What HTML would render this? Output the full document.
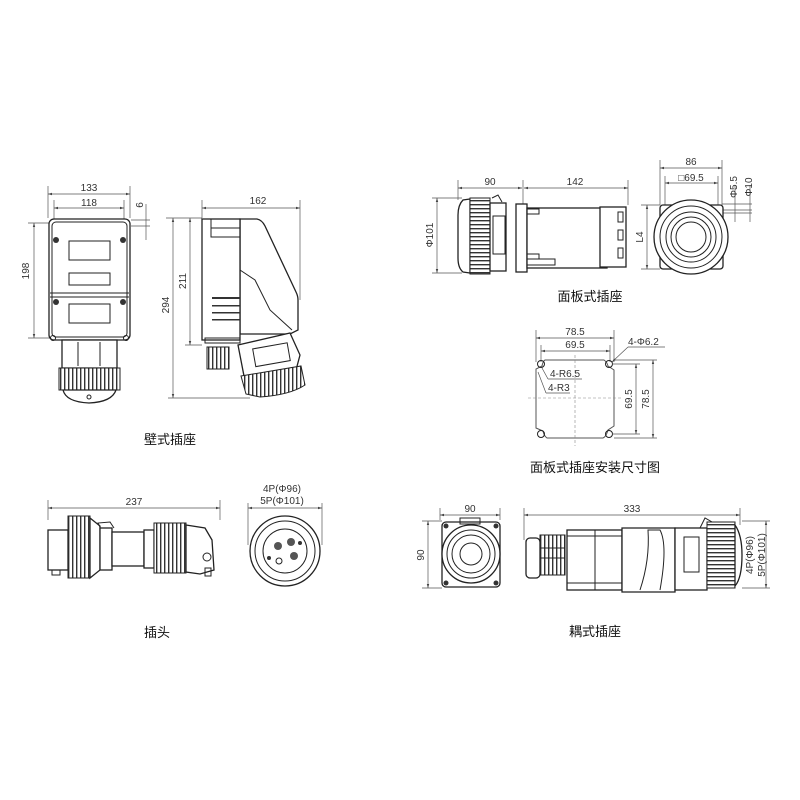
<!DOCTYPE html>
<html><head><meta charset="utf-8"><style>
html,body{margin:0;padding:0;background:#fff}
svg{display:block}
text{font-family:"Liberation Sans","Noto Sans CJK SC",sans-serif;fill:#333}
.t{font-size:10px}
.c{font-size:13px;fill:#111}
.d{stroke:#555;stroke-width:0.7;fill:none}
.k{stroke:#222;stroke-width:1.3;fill:#fff}
.k2{stroke:#222;stroke-width:1;fill:none}
.f{fill:#333;stroke:none}
</style></head><body>
<svg width="800" height="800" viewBox="0 0 800 800" xmlns="http://www.w3.org/2000/svg">
<defs>
<marker id="a" viewBox="0 0 10 10" refX="10" refY="5" markerWidth="6" markerHeight="6" orient="auto-start-reverse"><path d="M0,2 L10,5 L0,8z" fill="#444"/></marker>
<pattern id="rib" width="4" height="10" patternUnits="userSpaceOnUse"><rect width="4" height="10" fill="#fff"/><rect x="0" width="1.4" height="10" fill="#333"/></pattern>
<pattern id="ribh" width="10" height="4" patternUnits="userSpaceOnUse"><rect width="10" height="4" fill="#fff"/><rect y="0" width="10" height="1.4" fill="#333"/></pattern>
</defs>

<!-- WALL SOCKET FRONT -->
<g>
<line class="d" x1="48" y1="186" x2="48" y2="218"/><line class="d" x1="130" y1="186" x2="130" y2="218"/>
<line class="d" x1="48" y1="194" x2="130" y2="194" marker-start="url(#a)" marker-end="url(#a)"/>
<text class="t" x="89" y="191" text-anchor="middle">133</text>
<line class="d" x1="54" y1="200" x2="54" y2="222"/><line class="d" x1="124" y1="200" x2="124" y2="222"/>
<line class="d" x1="54" y1="208" x2="124" y2="208" marker-start="url(#a)" marker-end="url(#a)"/>
<text class="t" x="89" y="206" text-anchor="middle">118</text>
<line class="d" x1="131" y1="220" x2="150" y2="220"/><line class="d" x1="131" y1="226" x2="150" y2="226"/>
<line class="d" x1="146" y1="204" x2="146" y2="240"/>
<text class="t" transform="translate(146,205) rotate(-90)" text-anchor="middle" y="-3">6</text>
<line class="d" x1="28" y1="223" x2="50" y2="223"/><line class="d" x1="28" y1="338" x2="50" y2="338"/>
<line class="d" x1="34" y1="223" x2="34" y2="338" marker-start="url(#a)" marker-end="url(#a)"/>
<text class="t" transform="translate(29,271) rotate(-90)" text-anchor="middle">198</text>
<rect class="k" x="49" y="219" width="81" height="121" rx="5"/>
<rect class="k2" x="52" y="222" width="75" height="115" rx="4"/>
<line class="k2" x1="50" y1="293" x2="129" y2="293"/><line class="k2" x1="50" y1="297" x2="129" y2="297"/>
<rect class="k2" x="69" y="241" width="41" height="19"/>
<rect class="k2" x="69" y="273" width="41" height="12"/>
<rect class="k2" x="69" y="304" width="41" height="19"/>
<circle class="f" cx="56" cy="240" r="3"/><circle class="f" cx="123" cy="240" r="3"/>
<circle class="f" cx="56" cy="302" r="3"/><circle class="f" cx="123" cy="302" r="3"/>
<circle class="k2" cx="53" cy="338" r="2.5"/><circle class="k2" cx="126" cy="338" r="2.5"/>
<rect class="k" x="62" y="340" width="55" height="28"/>
<line class="k2" x1="78" y1="342" x2="78" y2="366"/><line class="k2" x1="100" y1="342" x2="100" y2="366"/>
<rect x="59" y="368" width="61" height="22" fill="url(#rib)" stroke="#222"/>
<path class="k" d="M63,390 L116,390 Q112,402 89,403 Q66,402 63,390z"/>
<circle class="k2" cx="89" cy="397" r="2"/>
</g>

<!-- WALL SOCKET SIDE -->
<g>
<line class="d" x1="202" y1="200" x2="202" y2="218"/><line class="d" x1="300" y1="200" x2="300" y2="300"/>
<line class="d" x1="202" y1="208" x2="300" y2="208" marker-start="url(#a)" marker-end="url(#a)"/>
<text class="t" x="258" y="204" text-anchor="middle">162</text>
<line class="d" x1="166" y1="218" x2="202" y2="218"/><line class="d" x1="185" y1="345" x2="202" y2="345"/>
<line class="d" x1="190" y1="218" x2="190" y2="345" marker-start="url(#a)" marker-end="url(#a)"/>
<text class="t" transform="translate(186,281) rotate(-90)" text-anchor="middle">211</text>
<line class="d" x1="168" y1="398" x2="250" y2="398"/>
<line class="d" x1="173" y1="218" x2="173" y2="398" marker-start="url(#a)" marker-end="url(#a)"/>
<text class="t" transform="translate(169,305) rotate(-90)" text-anchor="middle">294</text>
<path class="k" d="M240,219 L257,219 Q262,220 265,226 L296,292 Q298,296 298,300 L298,330 L290,334 L240,334z"/>
<path class="k2" d="M240,270 L255,280 L270,310 L292,330"/>
<rect class="k" x="202" y="219" width="38" height="121"/>
<rect class="k2" x="211" y="219" width="29" height="18"/>
<line class="k2" x1="211" y1="228" x2="240" y2="228"/>
<rect class="f" x="212" y="297" width="28" height="2"/><rect class="f" x="212" y="305" width="28" height="1.5"/>
<rect class="f" x="212" y="312" width="28" height="1.5"/><rect class="f" x="212" y="319" width="28" height="1.5"/>
<rect class="k2" x="205" y="338" width="35" height="5"/>
<rect x="207" y="347" width="22" height="22" fill="url(#rib)" stroke="#222"/>
<path class="k" d="M238,345 L290,333 L300,355 L296,370 L244,376z"/>
<rect class="k2" x="254" y="346" width="35" height="18" transform="rotate(-10 270 355)"/>
<path d="M241,376 L301,366 L305,385 Q290,395 260,397 L246,394z" fill="url(#rib)" stroke="#222"/>
<text class="c" x="170" y="444" text-anchor="middle">壁式插座</text>
</g>

<!-- PANEL SOCKET SIDE -->
<g>
<line class="d" x1="458" y1="180" x2="458" y2="200"/><line class="d" x1="523" y1="180" x2="523" y2="205"/><line class="d" x1="628" y1="180" x2="628" y2="205"/>
<line class="d" x1="458" y1="188" x2="522" y2="188" marker-start="url(#a)" marker-end="url(#a)"/>
<line class="d" x1="524" y1="188" x2="628" y2="188" marker-start="url(#a)" marker-end="url(#a)"/>
<text class="t" x="490" y="185" text-anchor="middle">90</text>
<text class="t" x="575" y="185" text-anchor="middle">142</text>
<line class="d" x1="432" y1="198" x2="462" y2="198"/><line class="d" x1="432" y1="273" x2="462" y2="273"/>
<line class="d" x1="437" y1="198" x2="437" y2="273" marker-start="url(#a)" marker-end="url(#a)"/>
<text class="t" transform="translate(433,235) rotate(-90)" text-anchor="middle">Φ101</text>
<path class="k" d="M470,199 L463,200 Q458,205 458,215 L458,258 Q458,268 463,272 L470,273z"/>
<rect x="470" y="198" width="20" height="76" fill="url(#ribh)" stroke="#222"/>
<rect class="k" x="490" y="203" width="16" height="68"/>
<rect class="k2" x="493" y="216" width="12" height="38"/>
<path class="k2" d="M492,198 L498,195 L502,202"/>
<rect class="k" x="516" y="204" width="11" height="68"/>
<rect class="k" x="527" y="208" width="80" height="60"/>
<rect class="k" x="600" y="207" width="26" height="60"/>
<rect class="k2" x="527" y="209" width="12" height="5"/><rect class="k2" x="527" y="254" width="12" height="5"/>
<rect class="k2" x="527" y="259" width="28" height="6"/>
<rect class="k2" x="618" y="212" width="5" height="10"/><rect class="k2" x="618" y="230" width="5" height="10"/><rect class="k2" x="618" y="248" width="5" height="10"/>
</g>

<!-- PANEL SOCKET FRONT -->
<g>
<line class="d" x1="660" y1="160" x2="660" y2="205"/><line class="d" x1="722" y1="160" x2="722" y2="205"/>
<line class="d" x1="660" y1="168" x2="722" y2="168" marker-start="url(#a)" marker-end="url(#a)"/>
<text class="t" x="691" y="165" text-anchor="middle">86</text>
<line class="d" x1="665" y1="176" x2="665" y2="205"/><line class="d" x1="718" y1="176" x2="718" y2="205"/>
<line class="d" x1="665" y1="183" x2="718" y2="183" marker-start="url(#a)" marker-end="url(#a)"/>
<text class="t" x="691" y="181" text-anchor="middle">□69.5</text>
<line class="d" x1="722" y1="204" x2="752" y2="204"/><line class="d" x1="722" y1="210" x2="752" y2="210"/><line class="d" x1="722" y1="213" x2="752" y2="213"/>
<line class="d" x1="735" y1="185" x2="735" y2="222"/><line class="d" x1="750" y1="185" x2="750" y2="222"/>
<text class="t" transform="translate(737,187) rotate(-90)" text-anchor="middle">Φ5.5</text>
<text class="t" transform="translate(752,187) rotate(-90)" text-anchor="middle">Φ10</text>
<line class="d" x1="641" y1="205" x2="660" y2="205"/><line class="d" x1="641" y1="269" x2="660" y2="269"/>
<line class="d" x1="647" y1="205" x2="647" y2="269" marker-start="url(#a)" marker-end="url(#a)"/>
<text class="t" transform="translate(643,237) rotate(-90)" text-anchor="middle">L4</text>
<rect class="k" x="660" y="205" width="63" height="64" rx="3"/>
<circle class="k" cx="691" cy="237" r="37"/>
<circle class="k2" cx="691" cy="237" r="31"/>
<circle class="k2" cx="691" cy="237" r="25" stroke-width="2"/>
<circle class="k2" cx="691" cy="237" r="20"/>
<circle class="k2" cx="691" cy="237" r="15"/>
<text class="c" x="590" y="301" text-anchor="middle">面板式插座</text>
</g>

<!-- MOUNTING -->
<g>
<line class="d" x1="536" y1="330" x2="536" y2="362"/><line class="d" x1="614" y1="330" x2="614" y2="362"/>
<line class="d" x1="536" y1="338" x2="614" y2="338" marker-start="url(#a)" marker-end="url(#a)"/>
<text class="t" x="575" y="335" text-anchor="middle">78.5</text>
<line class="d" x1="541" y1="345" x2="541" y2="362"/><line class="d" x1="610" y1="345" x2="610" y2="362"/>
<line class="d" x1="541" y1="351" x2="610" y2="351" marker-start="url(#a)" marker-end="url(#a)"/>
<text class="t" x="575" y="348" text-anchor="middle">69.5</text>
<text class="t" x="628" y="345">4-Φ6.2</text>
<line class="d" x1="628" y1="347" x2="665" y2="347"/><line class="d" x1="628" y1="347" x2="612" y2="362" marker-end="url(#a)"/>
<path d="M545,360 L604,360 Q607,362 608,366 L614,370 L614,426 L608,430 Q606,437 603,438 L547,438 Q544,436 543,431 L536,428 L536,369 L542,366 Q543,361 545,360z" stroke="#555" stroke-width="1" fill="none"/>
<circle class="k2" cx="541" cy="364" r="3.5"/><circle class="k2" cx="609" cy="364" r="3.5"/>
<circle class="k2" cx="541" cy="434" r="3.5"/><circle class="k2" cx="609" cy="434" r="3.5"/>
<line x1="575" y1="355" x2="575" y2="446" stroke="#888" stroke-width="0.6" stroke-dasharray="3,2"/>
<line x1="528" y1="398" x2="622" y2="398" stroke="#888" stroke-width="0.6" stroke-dasharray="3,2"/>
<text class="t" x="550" y="377">4-R6.5</text>
<text class="t" x="548" y="391">4-R3</text>
<line class="d" x1="548" y1="379" x2="582" y2="379"/><line class="d" x1="548" y1="379" x2="542" y2="368"/>
<line class="d" x1="546" y1="393" x2="570" y2="393"/><line class="d" x1="546" y1="393" x2="538" y2="372"/>
<line class="d" x1="612" y1="364" x2="640" y2="364"/><line class="d" x1="612" y1="434" x2="640" y2="434"/>
<line class="d" x1="614" y1="360" x2="657" y2="360"/><line class="d" x1="614" y1="438" x2="657" y2="438"/>
<line class="d" x1="636" y1="364" x2="636" y2="434" marker-start="url(#a)" marker-end="url(#a)"/>
<line class="d" x1="653" y1="360" x2="653" y2="438" marker-start="url(#a)" marker-end="url(#a)"/>
<text class="t" transform="translate(632,399) rotate(-90)" text-anchor="middle">69.5</text>
<text class="t" transform="translate(649,399) rotate(-90)" text-anchor="middle">78.5</text>
<text class="c" x="595" y="472" text-anchor="middle">面板式插座安装尺寸图</text>
</g>

<!-- PLUG -->
<g>
<line class="d" x1="48" y1="500" x2="48" y2="520"/><line class="d" x1="220" y1="500" x2="220" y2="520"/>
<line class="d" x1="48" y1="508" x2="220" y2="508" marker-start="url(#a)" marker-end="url(#a)"/>
<text class="t" x="134" y="505" text-anchor="middle">237</text>
<rect class="k" x="48" y="530" width="20" height="40"/>
<rect class="k2" x="52" y="570" width="8" height="5"/>
<rect x="68" y="516" width="22" height="62" fill="url(#rib)" stroke="#222"/>
<path class="k" d="M90,518 L100,526 L100,570 L90,578z"/>
<rect class="k" x="100" y="528" width="12" height="42"/>
<path class="k2" d="M100,527 L98,523 L110,522 L114,528"/>
<rect class="k" x="112" y="532" width="32" height="34"/>
<rect class="k" x="144" y="530" width="10" height="38"/>
<rect x="154" y="523" width="32" height="50" fill="url(#rib)" stroke="#222"/>
<path class="k" d="M186,525 L205,528 L212,540 L214,570 L200,574 L186,572z"/>
<circle class="k2" cx="207" cy="557" r="4"/><rect class="k2" x="205" y="568" width="6" height="8"/>
<text class="t" x="282" y="492" text-anchor="middle">4P(Φ96)</text>
<text class="t" x="282" y="504" text-anchor="middle">5P(Φ101)</text>
<line class="d" x1="248" y1="508" x2="322" y2="508" marker-start="url(#a)" marker-end="url(#a)"/>
<line class="d" x1="248" y1="503" x2="248" y2="545"/><line class="d" x1="322" y1="503" x2="322" y2="545"/>
<circle class="k" cx="285" cy="551" r="35"/>
<circle class="k2" cx="285" cy="551" r="30"/>
<circle class="k2" cx="285" cy="551" r="22"/>
<circle cx="278" cy="546" r="4" fill="#555"/><circle cx="291" cy="542" r="4" fill="#555"/><circle cx="294" cy="556" r="4" fill="#555"/>
<circle class="k2" cx="279" cy="561" r="3"/><circle cx="300" cy="543" r="2" fill="#333"/><circle cx="269" cy="558" r="2" fill="#333"/>
<text class="c" x="157" y="637" text-anchor="middle">插头</text>
</g>

<!-- COUPLER -->
<g>
<line class="d" x1="440" y1="508" x2="440" y2="520"/><line class="d" x1="500" y1="508" x2="500" y2="520"/>
<line class="d" x1="440" y1="515" x2="500" y2="515" marker-start="url(#a)" marker-end="url(#a)"/>
<text class="t" x="470" y="512" text-anchor="middle">90</text>
<line class="d" x1="422" y1="521" x2="442" y2="521"/><line class="d" x1="422" y1="588" x2="442" y2="588"/>
<line class="d" x1="428" y1="521" x2="428" y2="588" marker-start="url(#a)" marker-end="url(#a)"/>
<text class="t" transform="translate(424,555) rotate(-90)" text-anchor="middle">90</text>
<rect class="k" x="442" y="522" width="58" height="65" rx="4"/>
<rect class="k2" x="460" y="518" width="20" height="6"/>
<circle class="k" cx="471" cy="554" r="29"/>
<circle class="k2" cx="471" cy="554" r="24"/>
<circle class="k2" cx="471" cy="554" r="19" stroke-width="2"/>
<circle class="k2" cx="471" cy="554" r="11"/>
<circle class="f" cx="446" cy="526" r="2.5"/><circle class="f" cx="496" cy="526" r="2.5"/><circle class="f" cx="446" cy="583" r="2.5"/><circle class="f" cx="496" cy="583" r="2.5"/>
<line class="d" x1="524" y1="508" x2="524" y2="540"/><line class="d" x1="740" y1="508" x2="740" y2="525"/>
<line class="d" x1="524" y1="515" x2="740" y2="515" marker-start="url(#a)" marker-end="url(#a)"/>
<text class="t" x="632" y="512" text-anchor="middle">333</text>
<rect class="k" x="526" y="538" width="14" height="40" rx="4"/>
<rect x="540" y="535" width="25" height="40" fill="url(#rib)" stroke="#222"/>
<rect class="k2" x="540" y="548" width="25" height="10" fill="#fff"/>
<rect class="k" x="567" y="530" width="55" height="60"/>
<line class="k2" x1="567" y1="536" x2="622" y2="536"/><line class="k2" x1="567" y1="583" x2="622" y2="583"/>
<line class="k2" x1="595" y1="530" x2="595" y2="590"/>
<path class="k" d="M622,528 L675,528 L675,592 L622,592z"/>
<path class="k2" d="M640,590 Q650,560 648,530 L660,530 Q668,545 660,590"/>
<rect class="k" x="675" y="528" width="32" height="62"/>
<rect class="k2" x="684" y="537" width="15" height="35"/>
<path class="k2" d="M700,528 L705,518 L712,522 L710,528"/>
<rect x="707" y="522" width="28" height="66" fill="url(#ribh)" stroke="#222"/>
<path class="k" d="M735,525 Q742,535 742,555 Q742,578 735,586z"/>
<line class="d" x1="742" y1="521" x2="770" y2="521"/><line class="d" x1="742" y1="588" x2="770" y2="588"/>
<line class="d" x1="766" y1="521" x2="766" y2="588" marker-start="url(#a)" marker-end="url(#a)"/>
<text class="t" transform="translate(753,555) rotate(-90)" text-anchor="middle">4P(Φ96)</text>
<text class="t" transform="translate(765,555) rotate(-90)" text-anchor="middle">5P(Φ101)</text>
<text class="c" x="595" y="636" text-anchor="middle">耦式插座</text>
</g>
</svg>
</body></html>
